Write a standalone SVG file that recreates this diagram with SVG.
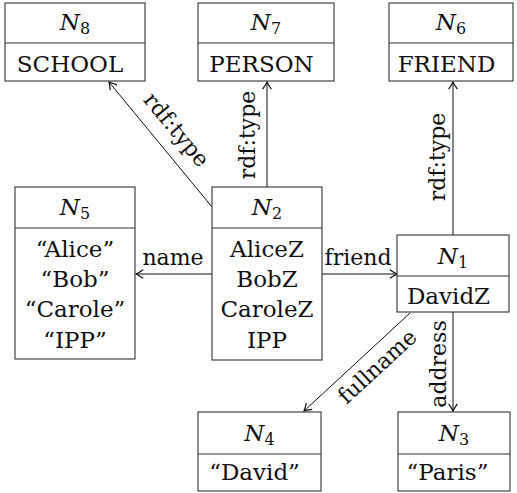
<svg xmlns="http://www.w3.org/2000/svg" width="517" height="493" viewBox="0 0 517 493">
<style>
text{font-family:'DejaVu Serif',serif;font-size:23px;fill:#111}
.m{text-anchor:middle}
.l{font-size:22px}
.box{fill:#fff;stroke:#333;stroke-width:1.1}
.div{stroke:#333;stroke-width:1.1}
.e{fill:none;stroke:#111;stroke-width:1;marker-end:url(#ar)}
.i{font-style:italic}
.s{font-size:16px}
</style>
<defs>
<marker id="ar" markerUnits="userSpaceOnUse" markerWidth="12" markerHeight="12" viewBox="-8 -5 10 10" refX="0" refY="0" orient="auto">
<path d="M-6,-3.6 Q-2.2,-1 0,0 Q-2.2,1 -6,3.6" fill="none" stroke="#111" stroke-width="1"/>
</marker>
</defs>
<g id="connectors">
<line class="e" x1="212" y1="207" x2="109" y2="82"/>
<line class="e" x1="267" y1="187" x2="267" y2="82"/>
<line class="e" x1="453" y1="235" x2="453" y2="82"/>
<line class="e" x1="212" y1="274" x2="136" y2="274"/>
<line class="e" x1="322" y1="274" x2="397" y2="274"/>
<line class="e" x1="410" y1="313" x2="304" y2="411"/>
<line class="e" x1="453" y1="312" x2="453" y2="411"/>
<text class="m l" transform="translate(175,131) rotate(50.5)" y="5.5">rdf:type</text>
<text class="m l" transform="translate(255,135) rotate(-90)">rdf:type</text>
<text class="m l" transform="translate(445,157) rotate(-90)">rdf:type</text>
<text class="m l" x="173" y="265">name</text>
<text class="m l" x="358" y="265">friend</text>
<text class="m l" transform="translate(377,366) rotate(-42.7)" y="8">fullname</text>
<text class="m l" transform="translate(446,364) rotate(-90)">address</text>
</g>
<g id="N8">
<rect class="box" x="5" y="3" width="140" height="78"/>
<line class="div" x1="5" y1="43" x2="145" y2="43"/>
<text class="m" x="75" y="30"><tspan class="i">N</tspan><tspan class="s" dy="4">8</tspan></text>
<text class="m" x="70" y="72">SCHOOL</text>
</g>
<g id="N7">
<rect class="box" x="198" y="3" width="136" height="78"/>
<line class="div" x1="198" y1="43" x2="334" y2="43"/>
<text class="m" x="266" y="30"><tspan class="i">N</tspan><tspan class="s" dy="4">7</tspan></text>
<text class="m" x="261.5" y="72">PERSON</text>
</g>
<g id="N6">
<rect class="box" x="389" y="3" width="124" height="78"/>
<line class="div" x1="389" y1="43" x2="513" y2="43"/>
<text class="m" x="451" y="30"><tspan class="i">N</tspan><tspan class="s" dy="4">6</tspan></text>
<text class="m" x="446.5" y="72">FRIEND</text>
</g>
<g id="N5">
<rect class="box" x="15" y="187" width="120" height="172"/>
<line class="div" x1="15" y1="228" x2="135" y2="228"/>
<text class="m" x="75" y="215"><tspan class="i">N</tspan><tspan class="s" dy="4">5</tspan></text>
<text class="m" x="75" y="257">“Alice”</text>
<text class="m" x="75" y="287">“Bob”</text>
<text class="m" x="75" y="317">“Carole”</text>
<text class="m" x="75" y="348">“IPP”</text>
</g>
<g id="N2">
<rect class="box" x="212" y="187" width="110" height="173"/>
<line class="div" x1="212" y1="228" x2="322" y2="228"/>
<text class="m" x="267" y="215"><tspan class="i">N</tspan><tspan class="s" dy="4">2</tspan></text>
<text class="m" x="267" y="257">AliceZ</text>
<text class="m" x="267" y="287">BobZ</text>
<text class="m" x="267" y="317">CaroleZ</text>
<text class="m" x="267" y="348">IPP</text>
</g>
<g id="N1">
<rect class="box" x="397" y="235" width="112" height="77"/>
<line class="div" x1="397" y1="276" x2="509" y2="276"/>
<text class="m" x="453" y="264"><tspan class="i">N</tspan><tspan class="s" dy="4">1</tspan></text>
<text class="m" x="448.5" y="304">DavidZ</text>
</g>
<g id="N4">
<rect class="box" x="198" y="412" width="123" height="79"/>
<line class="div" x1="198" y1="454" x2="321" y2="454"/>
<text class="m" x="259.5" y="441"><tspan class="i">N</tspan><tspan class="s" dy="4">4</tspan></text>
<text class="m" x="254.5" y="480">“David”</text>
</g>
<g id="N3">
<rect class="box" x="398" y="412" width="112" height="79"/>
<line class="div" x1="398" y1="454" x2="510" y2="454"/>
<text class="m" x="454" y="441"><tspan class="i">N</tspan><tspan class="s" dy="4">3</tspan></text>
<text class="m" x="447.5" y="480">“Paris”</text>
</g>
</svg>
